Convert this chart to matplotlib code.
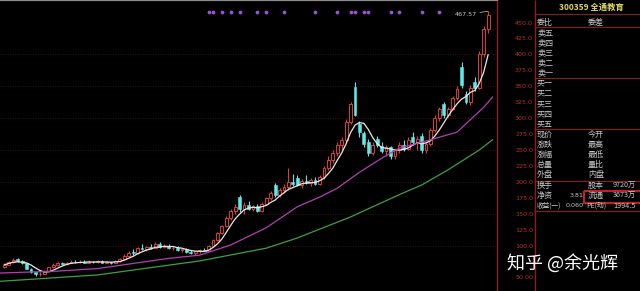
import matplotlib
matplotlib.use("Agg")
from matplotlib import pyplot as plt
import matplotlib.transforms as mtransforms
from matplotlib.patches import Rectangle
import numpy as np
import pandas as pd

# daily candles
opens = [67, 70, 74, 79, 76, 72, 64, 58, 55, 56, 60, 66, 70, 72, 71, 73, 75, 74, 75, 73,
         75, 74, 76, 73, 74, 73, 76, 79, 84, 90, 88, 96, 94, 98, 97, 102, 98, 100, 96, 97,
         93, 94, 90, 88, 91, 93, 92, 100, 109, 120, 131, 144, 155, 176, 157, 164, 158, 162, 155, 166,
         174, 195, 180, 187, 192, 200, 206, 195, 202, 198, 203, 197, 208, 222, 235, 246, 258, 266, 294, 349,
         290, 276, 262, 246, 268, 256, 248, 254, 240, 250, 258, 252, 270, 262, 272, 250, 260, 282, 300, 322,
         305, 315, 332, 380, 338, 325, 356, 348, 400, 440]
highs = [72, 76, 80, 81, 77, 73, 65, 59, 58, 61, 67, 72, 74, 74, 75, 77, 77, 77, 77, 77,
         76, 78, 77, 76, 75, 78, 81, 87, 92, 95, 98, 102, 100, 103, 105, 106, 102, 103, 99, 100,
         96, 96, 93, 92, 95, 97, 101, 110, 121, 133, 146, 158, 166, 180, 168, 170, 164, 165, 168, 176,
         185, 199, 190, 196, 222, 212, 210, 205, 210, 206, 208, 210, 225, 240, 250, 262, 270, 298, 326, 356,
         295, 280, 268, 262, 272, 262, 258, 256, 252, 262, 266, 270, 278, 272, 276, 262, 285, 305, 318, 326,
         318, 335, 350, 388, 342, 352, 364, 405, 445, 467.57]
lows = [65, 69, 73, 75, 71, 63, 57, 53, 53, 55, 59, 65, 68, 69, 70, 72, 73, 72, 72, 72,
        72, 73, 72, 72, 71, 72, 75, 78, 83, 86, 87, 93, 92, 95, 96, 97, 96, 95, 93, 92,
        90, 89, 87, 86, 89, 91, 91, 99, 108, 118, 129, 140, 150, 152, 150, 156, 155, 153, 153, 163,
        171, 177, 176, 183, 188, 193, 193, 190, 196, 194, 195, 195, 205, 218, 230, 240, 250, 262, 290, 303,
        270, 255, 240, 242, 255, 245, 240, 236, 236, 246, 248, 250, 258, 250, 245, 246, 256, 278, 296, 300,
        302, 312, 328, 348, 322, 320, 342, 345, 396, 434]
closes = [70, 74, 78, 76, 72, 64, 58, 55, 56, 60, 66, 70, 72, 71, 73, 75, 74, 75, 73, 75,
          74, 76, 73, 74, 73, 76, 79, 84, 89, 88, 96, 94, 98, 97, 102, 98, 100, 96, 97, 93,
          94, 90, 88, 91, 93, 92, 100, 109, 120, 131, 144, 155, 160, 157, 164, 158, 162, 155, 166, 174,
          182, 180, 187, 192, 200, 196, 195, 202, 198, 203, 197, 208, 222, 235, 246, 258, 266, 294, 322, 305,
          278, 260, 246, 258, 258, 248, 254, 240, 250, 258, 252, 266, 262, 268, 250, 260, 282, 300, 315, 305,
          315, 332, 345, 352, 325, 348, 347, 400, 440, 462]

# slower moving averages, read at a few points
purple_idx = [-1, 12, 21, 29, 37, 44, 51, 59, 66, 71, 75, 80, 85, 89, 96, 102, 108, 110]
purple_val = [57, 60, 64, 72, 80, 85, 101, 128, 161, 176, 190, 215, 237, 253, 266, 278, 317, 333]
green_idx = [-1, 21, 44, 59, 66, 78, 89, 94, 100, 107, 110]
green_val = [44, 54, 76, 96, 112, 145, 180, 195, 219, 250, 266]

# purple event dots along the top
event_idx = [46, 47, 49, 51, 53, 57, 59, 63, 70, 75, 78, 79, 81, 82, 87, 89, 94, 98]

tick_vals = [450, 425, 400, 375, 350, 325, 300, 275, 250, 225, 200, 175, 150, 125, 100, 50]
tick_labels = ["450.0", "425.0", "400.0", "375.0", "350.0", "325.0", "300.0", "275.0",
               "250.0", "225.0", "200.0", "175.0", "150.0", "125.0", "100.0", "50.00"]
grid_vals = [100, 150, 200, 250, 300, 350, 400]

title = "300359 全通教育"
left_rows = ["委比", "卖五", "卖四", "卖三", "卖二", "卖一", "买一", "买二", "买三", "买四", "买五",
             "现价", "涨跌", "涨幅", "总量", "外盘", "换手", "净资", "收益(一)"]
right_rows = ["委差", "", "", "", "", "", "", "", "", "", "",
              "今开", "最高", "最低", "量比", "内盘", "股本", "流通", "PE(动)"]
mid_vals = {17: "3.81", 18: "0.060"}
right_vals = {16: "9720万", 17: "3673万", 18: "1994.5"}

plt.rcParams['font.family'] = ['Noto Sans CJK SC', 'DejaVu Sans']

red = "#dc3c3c"
cyan = "#5fe8e8"
dark_red = "#8a1e1e"
txt = "#c8c8c8"

fig = plt.figure(figsize=(6.4, 2.91), dpi=100, facecolor="black")
ax = fig.add_axes([0, 0, 497 / 640, 1])
ax.set_facecolor("black")

o = np.array(opens, dtype=float)
h = np.array(highs, dtype=float)
l = np.array(lows, dtype=float)
c = np.array(closes, dtype=float)
x = np.arange(len(c))
up = c >= o

ax.vlines(x, l, h, colors=np.where(up, red, cyan), linewidth=0.8, zorder=2)
ax.bar(x[up], (c - o)[up], bottom=o[up], width=0.62, facecolor="black",
       edgecolor=red, linewidth=0.7, zorder=3)
ax.bar(x[~up], (o - c)[~up], bottom=c[~up], width=0.62, color=cyan,
       edgecolor=cyan, linewidth=0.4, zorder=3)

ma5 = pd.Series(c).rolling(5, min_periods=1).mean()
ax.plot(x, ma5, color="#e8e8e8", linewidth=0.9, zorder=4)
ax.plot(purple_idx, purple_val, color="#b040b0", linewidth=0.9, zorder=4)
ax.plot(green_idx, green_val, color="#3fa040", linewidth=0.9, zorder=4)

for g in grid_vals:
    ax.axhline(g, color="#5a1414", linewidth=0.6, linestyle=(0, (1, 2)), zorder=1)

trans = mtransforms.blended_transform_factory(ax.transData, ax.transAxes)
ax.scatter(event_idx, [0.958] * len(event_idx), transform=trans, s=3,
           color="#9a50d8", zorder=5)

hi = int(np.argmax(h))
ax.annotate(f"{h[hi]:.2f}", xy=(hi, h[hi]), xytext=(-11, -3), textcoords="offset pixels",
            ha="right", va="center", fontsize=4.6, color=txt, family="DejaVu Sans",
            arrowprops=dict(arrowstyle="-", color=txt, linewidth=0.5, shrinkA=0, shrinkB=0))

ax.set_xlim(-1, 111)
ax.set_ylim(28.8, 485.3)
ax.set_xticks([])
ax.yaxis.tick_right()
ax.set_yticks(tick_vals)
ax.set_yticklabels(tick_labels, family="DejaVu Sans")
ax.tick_params(axis="y", length=0, pad=13, labelsize=4.6, labelcolor="#b83030")
for side in ["left", "bottom"]:
    ax.spines[side].set_visible(False)
ax.spines["right"].set_color(dark_red)
ax.spines["right"].set_linewidth(1)
ax.spines["top"].set_color("#8a8a8a")
ax.spines["top"].set_linewidth(1.6)

# quote panel on the right
pa = fig.add_axes([534 / 640, 0, 106 / 640, 1])
pa.set_facecolor("black")
pa.set_xlim(534, 640)
pa.set_ylim(291, 0)
pa.axis("off")
pa.vlines(534.5, 0, 291, colors=dark_red, linewidth=1)
pa.hlines([14, 27, 77.5, 129, 180.5, 211], 534, 640, colors=dark_red, linewidth=0.8)
pa.text(591, 7, title, color="#e2da6a", fontsize=6, ha="center", va="center",
        fontweight="bold")

for k, name in enumerate(left_rows):
    y = 22 + k * 10.2
    size = 5.8 if len(name) <= 2 else 4.8
    pa.text(537, y, name, color=txt, fontsize=size, ha="left", va="center")
    if right_rows[k]:
        pa.text(596, y, right_rows[k], color=txt, fontsize=5.8 if len(right_rows[k]) <= 2 else 5,
                ha="center", va="center")
    if k in mid_vals:
        pa.text(584, y, mid_vals[k], color=txt, fontsize=4.6, ha="right", va="center",
                family="DejaVu Sans")
    if k in right_vals:
        pa.text(613, y, right_vals[k], color=txt, fontsize=5.2, ha="left", va="center",
                clip_on=True)

pa.add_patch(Rectangle((584, 191), 58, 11.5, fill=False, edgecolor="#c42020", linewidth=1.5))

fig.text(507 / 640, 1 - 263 / 291, "知乎 @余光辉", color="white", fontsize=13,
         ha="left", va="center")

fig.savefig("out.png", dpi=100, facecolor="black")
